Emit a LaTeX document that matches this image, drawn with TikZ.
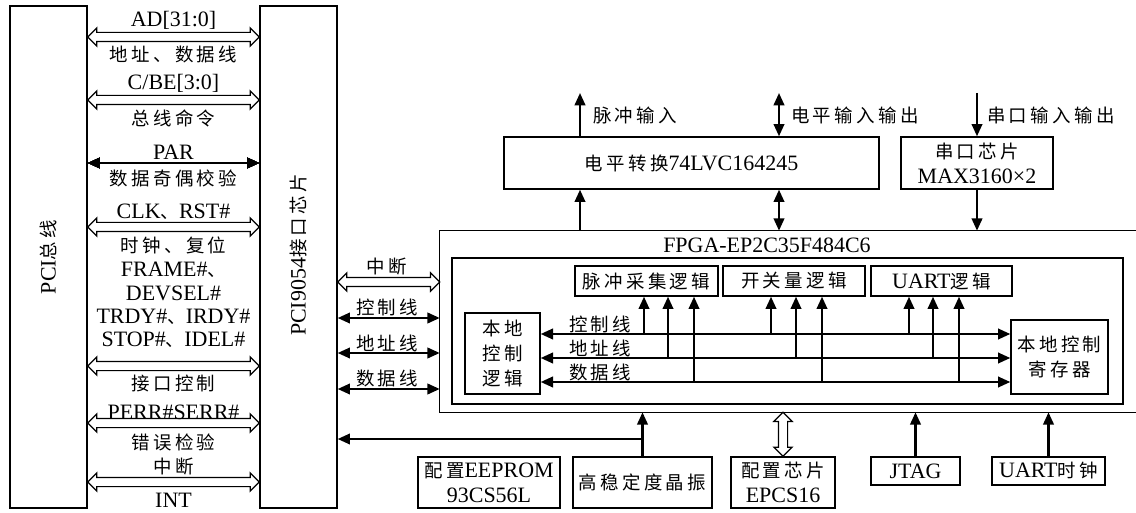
\documentclass[tikz,border=0pt]{standalone}
\usepackage{fontspec}
\setmainfont{Liberation Serif}
\newfontfamily\cjk[Scale=0.84,LetterSpace=18]{Noto Sans CJK SC}
\newcommand{\zh}[1]{{\cjk #1}}
\usetikzlibrary{arrows.meta, calc, shapes.arrows}
\tikzset{
  box/.style={draw, line width=0.8pt, inner sep=0pt, align=center},
  arr/.style={-{Triangle[length=7pt, width=6pt]}, line width=1.3pt},
  biarr/.style={{Triangle[length=7pt, width=6pt]}-{Triangle[length=7pt, width=6pt]}, line width=1.3pt},
  fatarrow/.style={double arrow, draw, fill=white, line width=0.7pt,
    inner xsep=0pt, inner ysep=0.08cm, double arrow head extend=0.09cm}
}
% hollow two-way bus arrow between two points
\newcommand{\fatlink}[2]{%
  \path let \p1=(#1), \p2=(#2),
    \n1={veclen(\x2-\x1,\y2-\y1)}, \n2={atan2(\y2-\y1,\x2-\x1)}
  in node[fatarrow, minimum height=\n1, rotate=\n2] at ($(#1)!0.5!(#2)$) {};}

\begin{document}
\begin{tikzpicture}[x=0.02cm, y=-0.02cm, font=\fontsize{12.5pt}{14.2pt}\selectfont]
  \useasboundingbox (0,0) rectangle (1136,513);

  % PCI bus and interface chip
  \node[box, minimum width=1.54cm, minimum height=10.04cm] (pcibus) at (48.5,257) {};
  \node[rotate=90] (pcibuslbl) at (pcibus) {PCI\zh{总线}};
  \node[box, minimum width=1.54cm, minimum height=10.04cm] (pcichip) at (298.5,257) {};
  \node[rotate=90] (pcichiplbl) at (298.5,255) {PCI9054\zh{接口芯片}};

  % PCI signals
  \foreach \ya in {37,100,227,366,423,482}
    \fatlink{pcibus.east |- 0,\ya}{pcichip.west |- 0,\ya}
  \draw[biarr, line width=1.1pt] (pcibus.east |- 0,163) -- (pcichip.west |- 0,163);
  \node (adlbl) at (173.5,20) {AD[31:0]};
  \node (adtxt) at (173.5,55) {\zh{地址、数据线}};
  \node (cbelbl) at (173.5,83) {C/BE[3:0]};
  \node (cbetxt) at (173.5,118) {\zh{总线命令}};
  \node (parlbl) at (173.5,152) {PAR};
  \node (partxt) at (173.5,178) {\zh{数据奇偶校验}};
  \node (clklbl) at (173.5,212) {CLK\zh{、}RST\#};
  \node (clktxt) at (173.5,245) {\zh{时钟、复位}};
  \node[align=center, font=\fontsize{12.5pt}{13.3pt}\selectfont] (ctrllbl) at (173.5,305)
    {FRAME\#\zh{、}\\DEVSEL\#\\TRDY\#\zh{、}IRDY\#\\STOP\#\zh{、}IDEL\#};
  \node (ctrltxt) at (173.5,383) {\zh{接口控制}};
  \node (errlbl) at (173.5,412) {PERR\#SERR\#};
  \node (errtxt) at (173.5,442) {\zh{错误检验}};
  \node (inttxt) at (173.5,467) {\zh{中断}};
  \node (intlbl) at (173.5,500) {INT};

  % FPGA
  \node[inner sep=0pt, minimum width=13.92cm, minimum height=3.62cm] (fpga) at (788,321.5) {};
  \draw[line width=0.8pt] (fpga.north east) -- (fpga.north west) -- (fpga.south west) -- (fpga.south east);
  \node (fpgalbl) at (767,245) {FPGA-EP2C35F484C6};
  \node[box, minimum width=13.42cm, minimum height=2.92cm] (fpgacore) at (787.5,331) {};
  \node[box, minimum width=2.86cm, minimum height=0.6cm] (pulselogic) at (646.5,281) {\zh{脉冲采集逻辑}};
  \node[box, minimum width=2.84cm, minimum height=0.6cm] (switchlogic) at (794,281) {\zh{开关量逻辑}};
  \node[box, minimum width=2.82cm, minimum height=0.6cm] (uartlogic) at (941.5,281) {UART\zh{逻辑}};
  \node[box, minimum width=1.5cm, minimum height=1.62cm] (locallogic) at (502.5,353.5)
    {\zh{本地}\\\zh{控制}\\\zh{逻辑}};
  \node[box, minimum width=1.94cm, minimum height=1.48cm] (localreg) at (1059.5,357)
    {\zh{本地控制}\\\zh{寄存器}};

  % local bus
  \foreach \ya in {334,358,382}
    \draw[biarr] (locallogic.east |- 0,\ya) -- (localreg.west |- 0,\ya);
  \node (busctrl) at (600,324) {\zh{控制线}};
  \node (busaddr) at (600,348) {\zh{地址线}};
  \node (busdata) at (600,372) {\zh{数据线}};
  \foreach \blk/\xa/\xb/\xc in {pulselogic/644/668/694, switchlogic/771/796/822, uartlogic/909/933/959} {
    \draw[arr] (\xa,334) -- (\blk.south -| \xa,0);
    \draw[arr] (\xb,358) -- (\blk.south -| \xb,0);
    \draw[arr] (\xc,382) -- (\blk.south -| \xc,0);
  }

  % PCI9054 to FPGA
  \fatlink{pcichip.east |- 0,282}{fpga.west |- 0,282}
  \foreach \ya in {318,353,389}
    \draw[biarr] (pcichip.east |- 0,\ya) -- (fpga.west |- 0,\ya);
  \node (intlink) at (387,267) {\zh{中断}};
  \node (ctrllink) at (387,307) {\zh{控制线}};
  \node (addrlink) at (387,343) {\zh{地址线}};
  \node (datalink) at (387,378) {\zh{数据线}};

  % level shifter and serial chip
  \node[box, minimum width=7.5cm, minimum height=1.04cm] (levelconv) at (691.5,163) {\zh{电平转换}74LVC164245};
  \node[box, minimum width=3.04cm, minimum height=1.04cm] (serialchip) at (977,163) {\zh{串口芯片}\\MAX3160×2};
  \coordinate (pulsein) at (580,93);
  \coordinate (levelio) at (779,93);
  \coordinate (serialio) at (977,93);
  \draw[arr] (levelconv.north -| pulsein) -- (pulsein);
  \draw[biarr] (levelconv.north -| levelio) -- (levelio);
  \draw[arr] (serialio) -- (serialchip.north);
  \node[anchor=west] (pulseinlbl) at (587,115) {\zh{脉冲输入}};
  \node[anchor=west] (leveliolbl) at (785,115) {\zh{电平输入输出}};
  \node[anchor=west] (serialiolbl) at (981,115) {\zh{串口输入输出}};
  \draw[arr] (fpga.north -| pulsein) -- (levelconv.south -| pulsein);
  \draw[biarr] (levelconv.south -| levelio) -- (fpga.north -| levelio);
  \draw[arr] (serialchip.south) -- (serialchip.south |- fpga.north);

  % peripherals below
  \node[box, minimum width=2.84cm, minimum height=1.02cm] (eeprom) at (489,482.5) {\zh{配置}EEPROM\\93CS56L};
  \node[box, minimum width=2.78cm, minimum height=1.02cm] (crystal) at (642.5,482.5) {\zh{高稳定度晶振}};
  \node[box, minimum width=2.08cm, minimum height=1.02cm] (epcs) at (783,482.5) {\zh{配置芯片}\\EPCS16};
  \node[box, minimum width=1.78cm, minimum height=0.56cm] (jtag) at (915.5,471) {JTAG};
  \node[box, minimum width=2.26cm, minimum height=0.56cm] (uartclk) at (1048.5,471) {UART\zh{时钟}};
  \draw[arr] (crystal.north) -- (crystal.north |- fpga.south);
  \draw[arr] (crystal.north |- 0,439) -- (pcichip.east |- 0,439);
  \fatlink{epcs.north}{epcs.north |- fpga.south}
  \draw[arr] (jtag.north) -- (jtag.north |- fpga.south);
  \draw[arr] (uartclk.north) -- (uartclk.north |- fpga.south);
\end{tikzpicture}
\end{document}
